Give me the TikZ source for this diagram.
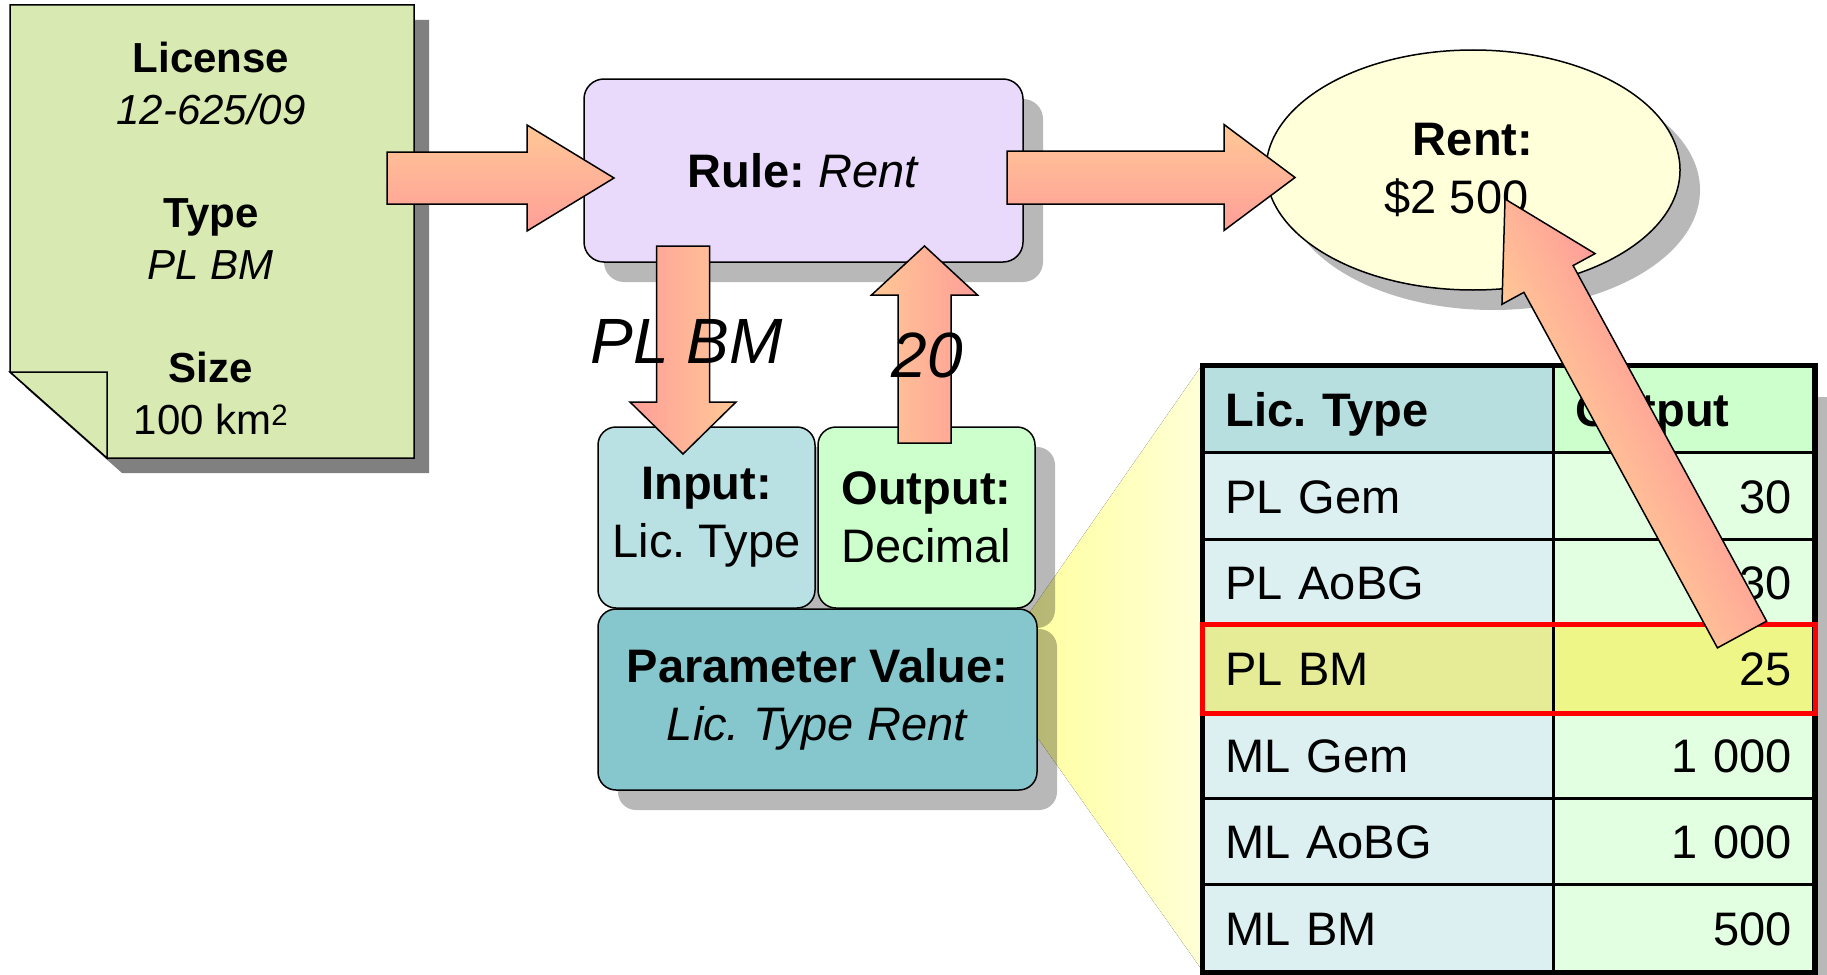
\documentclass[tikz,border=0pt]{standalone}
\usepackage{fontspec}
\setmainfont{Liberation Sans}
\usetikzlibrary{calc,shapes.geometric,shadows}
\frenchspacing

\definecolor{docgreen}{RGB}{216,234,178}
\definecolor{rulefill}{RGB}{233,218,252}
\definecolor{infill}{RGB}{185,224,226}
\definecolor{outfill}{RGB}{204,255,204}
\definecolor{valfill}{RGB}{133,199,204}
\definecolor{rentfill}{RGB}{255,255,217}
\definecolor{arrowtop}{RGB}{255,200,150}
\definecolor{arrowbot}{RGB}{255,158,152}
\definecolor{conedeep}{RGB}{255,255,160}
\definecolor{conelight}{RGB}{255,255,215}
\definecolor{headL}{RGB}{184,223,224}
\definecolor{headR}{RGB}{204,255,204}
\definecolor{bodyL}{RGB}{221,240,241}
\definecolor{bodyR}{RGB}{226,255,226}
\definecolor{markL}{RGB}{230,236,150}
\definecolor{markR}{RGB}{238,246,135}

\newcommand\bodyfont{\fontsize{47}{58}\selectfont}
\newcommand\docfont{\fontsize{42}{51.7}\selectfont}
\newcommand\biglabelfont{\fontsize{64}{70}\selectfont\itshape}

% block arrow from tail to tip: head length, half shaft width
\newcommand\fatarrow[4]{%
  \path let \p1=(#1), \p2=(#2) in
    \pgfextra{\pgfmathsetmacro\faang{atan2(\y2-\y1,\x2-\x1)}%
              \pgfmathsetmacro\falen{veclen(\x2-\x1,\y2-\y1)}%
              \global\let\faang\faang \global\let\falen\falen};
  \begin{scope}[transform canvas={shift={(#1)}, rotate=\faang}]
    \draw[fatarrow] (0,-#4) -- ({\falen-#3},-#4) -- ({\falen-#3},-53) -- (\falen,0)
      -- ({\falen-#3},53) -- ({\falen-#3},#4) -- (0,#4) -- cycle;
  \end{scope}
}

\begin{document}
\begin{tikzpicture}[x=1pt, y=-1pt,
    boxshadow/.style = {drop shadow={shadow xshift=20pt, shadow yshift=-20pt, fill=black, opacity=.28}},
    box/.style = {draw, line width=1.5pt, rounded corners=18pt, inner sep=0pt, align=center, font=\bodyfont, boxshadow},
    lower text/.style = {execute at begin node={\rule{0pt}{44pt}}},
    fatarrow/.style = {draw, line width=1.5pt, top color=arrowtop, bottom color=arrowbot},
    cell/.style = {draw, line width=3pt, minimum height=86.4pt, inner xsep=22pt, inner ysep=0pt,
                   text height=34pt, text depth=0pt, anchor=north west, font=\bodyfont},
    biglabel/.style = {font=\biglabelfont, inner sep=0pt}]
    \useasboundingbox (0,0) rectangle (1827,974);

    % zoom cone from the parameter box to the table
    \fill[left color=conedeep, right color=conelight]
        (1030,612) -- (1202,365) -- (1202,970) -- (1030,727) -- cycle;
    \fill[black, opacity=.28] (1227,397) rectangle (1840,1005);

    % license sheet
    \draw[line width=1.5pt, fill=docgreen,
          drop shadow={shadow xshift=15pt, shadow yshift=-15pt, fill=black!50, opacity=1}]
        (10,5) -- (414,5) -- (414,458) -- (107,458) -- (10,372) -- cycle;
    \draw[line width=1.5pt, fill=docgreen] (10,372) -- (107,372) -- (107,458) -- cycle;
    \node[anchor=north, inner sep=0pt, align=center, font=\docfont] (doc) at (211,42)
        {\textbf{License}\\ \textit{12-625/09}\\[51.7pt]
         \textbf{Type}\\ \textit{PL BM}\\[51.7pt]
         \textbf{Size}\\ 100 km\textsuperscript{2}};

    \node[box, rounded corners=20pt, fill=rulefill, minimum width=439pt, minimum height=183pt]
        (rule) at (803.5,170.5) {\textbf{Rule:} \textit{Rent}};
    \node[box, lower text, fill=infill, minimum width=217pt, minimum height=181pt]
        (input) at (706.5,517.5) {\textbf{Input:}\\Lic. Type};
    \node[box, lower text, fill=outfill, minimum width=217pt, minimum height=181pt]
        (output) at (926.5,517.5) {\textbf{Output:}\\Decimal};
    \node[box, fill=valfill, minimum width=439pt, minimum height=181pt]
        (param) at (817.5,699.5) {\textbf{Parameter Value:}\\\textit{Lic. Type Rent}};
    \node[draw, line width=1.5pt, ellipse, fill=rentfill, minimum width=414pt, minimum height=240pt,
          inner sep=0pt, align=center, font=\bodyfont, boxshadow, lower text]
        (rent) at (1473,170) {\textbf{Rent:}\\\$2 500\hspace*{33pt}};

    % lookup table
    \node[cell, fill=headL, text width=306pt, align=left] (hl) at (1202,365) {\textbf{Lic. Type}};
    \node[cell, fill=headR, text width=216pt, align=left] (hr) at (1552,365) {\textbf{Output}};
    \foreach \lic/\amt/\colL/\colR [count=\i] in {PL Gem/30/bodyL/bodyR, PL AoBG/30/bodyL/bodyR,
            PL BM/25/markL/markR, ML Gem/1 000/bodyL/bodyR, ML AoBG/1 000/bodyL/bodyR, ML BM/500/bodyL/bodyR}{
        \node[cell, fill=\colL, text width=306pt, align=left] (l\i) at (1202,{365+86.4*\i}) {\lic};
        \node[cell, fill=\colR, text width=216pt, align=right] (r\i) at (1552,{365+86.4*\i}) {\amt};
    }
    \draw[line width=5pt] (hl.north west) rectangle (r6.south east);
    \draw[red, line width=5pt] (l3.north west) rectangle (r3.south east);

    % block arrows
    \coordinate (lictail) at (387,178);    \coordinate (lictip) at (614,178);
    \coordinate (renttail) at (1007,177.5); \coordinate (renttip) at (1295,177.5);
    \coordinate (intail) at (683,246);     \coordinate (intip) at (683,454);
    \coordinate (outtail) at (924.5,443);  \coordinate (outtip) at (924.5,246);
    \coordinate (valtail) at (1742,634.5); \coordinate (valtip) at (1505,199);
    \fatarrow{lictail}{lictip}{87}{26}
    \fatarrow{renttail}{renttip}{71}{26.5}
    \fatarrow{intail}{intip}{52}{26.5}
    \fatarrow{outtail}{outtip}{49}{26.5}
    \fatarrow{valtail}{valtip}{91}{28}

    \node[biglabel] (inlabel) at (687,341.5) {PL BM};
    \node[biglabel] (outlabel) at (927,355) {20};
\end{tikzpicture}
\end{document}
